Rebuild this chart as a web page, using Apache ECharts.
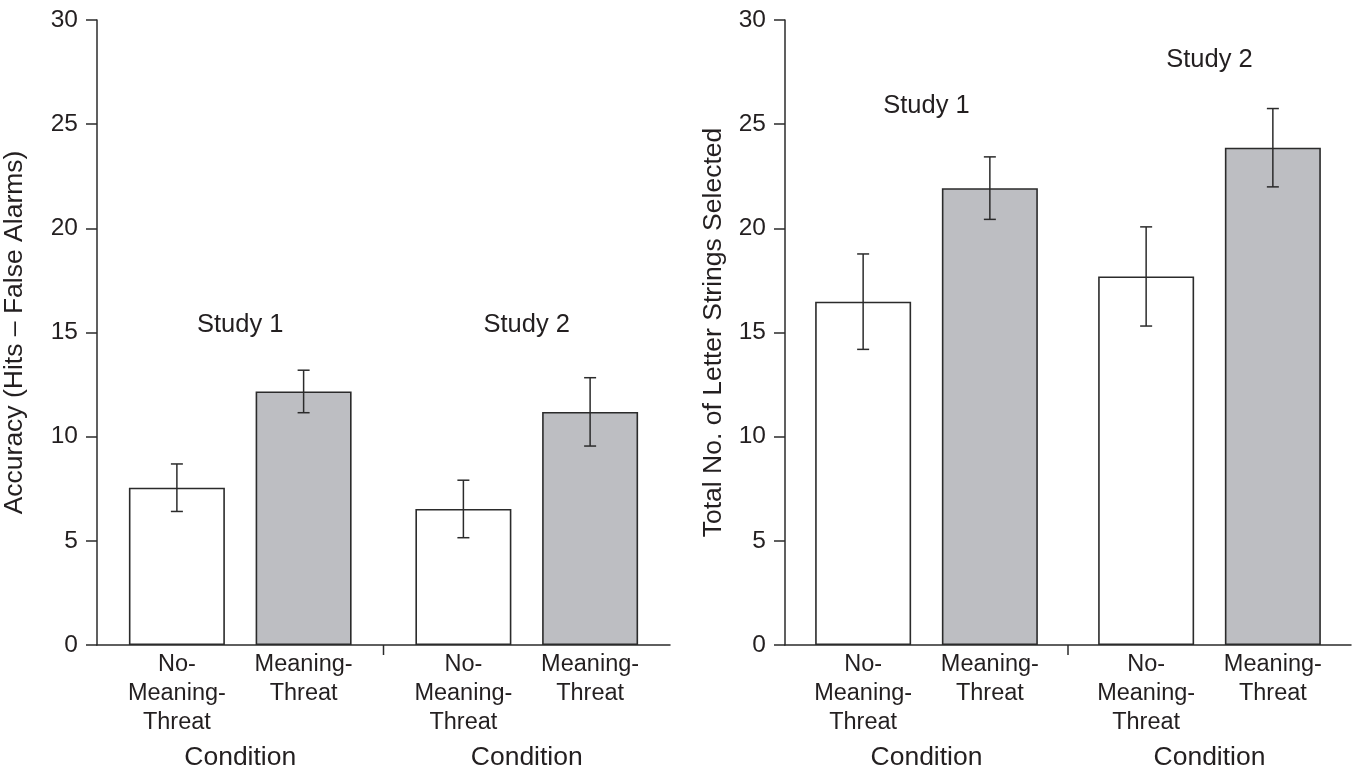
<!DOCTYPE html>
<html>
<head>
<meta charset="utf-8">
<script src="https://cdn.jsdelivr.net/npm/echarts@6/dist/echarts.min.js"></script>
<style>
html,body{margin:0;padding:0;background:#fff;}
#chart{width:1358px;height:771px;}
</style>
</head>
<body>
<div id="chart"></div>
<script>
// ---- data ----
const categories = ['Study 1', 'Study 2'];
const conditionNames = ['No-Meaning-Threat', 'Meaning-Threat'];
const conditionLabels = ['No-\nMeaning-\nThreat', 'Meaning-\nThreat'];
const xAxisTitle = 'Condition';
const yTicks = { min: 0, max: 30, interval: 5 };

const accuracyNoThreat = [7.55, 6.53];
const accuracyNoThreatErr = [1.14, 1.38];
const accuracyThreat = [12.17, 11.19];
const accuracyThreatErr = [1.02, 1.64];
const accuracyStudyLabelY = [15.35, 15.35];

const lettersNoThreat = [16.48, 17.69];
const lettersNoThreatErr = [2.29, 2.38];
const lettersThreat = [21.93, 23.87];
const lettersThreatErr = [1.5, 1.88];
const lettersStudyLabelY = [25.85, 28.1];

const leftYName = 'Accuracy (Hits \u2013 False Alarms)';
const rightYName = 'Total No. of Letter Strings Selected';

// ---- style ----
const FONT = "'Liberation Sans', Arial, Helvetica, sans-serif";
const TEXT = '#231f20';
const LINE = '#2b2b2b';
const GRAY = '#bdbec2';
const BAR_W = 96;
const BAR_GAP = 0.32;

function barSeries(idx, values, fill, s) {
  return {
    type: 'bar', name: conditionNames[s], xAxisIndex: idx, yAxisIndex: idx,
    data: values, barWidth: BAR_W, barGap: (BAR_GAP * 100) + '%',
    itemStyle: { color: fill, borderColor: LINE, borderWidth: 1.6 },
    label: {
      show: true, position: 'bottom', distance: 5,
      formatter: conditionLabels[s], fontFamily: FONT, fontSize: 23.5,
      lineHeight: 29, color: TEXT, align: 'center'
    },
    silent: true, animation: false
  };
}

function errorSeries(idx, mA, eA, mB, eB) {
  const data = [];
  for (let i = 0; i < categories.length; i++) {
    data.push([i, mA[i], eA[i], 0]);
    data.push([i, mB[i], eB[i], 1]);
  }
  return {
    type: 'custom', xAxisIndex: idx, yAxisIndex: idx, z: 5, animation: false, silent: true,
    data: data, encode: { x: 0, y: 1 },
    renderItem: function (params, api) {
      const i = api.value(0), m = api.value(1), e = api.value(2), s = api.value(3);
      const step = BAR_W * (1 + BAR_GAP);
      const cx = api.coord([i, m])[0] + (s - 0.5) * step;
      const yt = api.coord([i, m + e])[1];
      const yb = api.coord([i, m - e])[1];
      const cap = 6;
      const st = { stroke: LINE, lineWidth: 1.5 };
      return { type: 'group', children: [
        { type: 'line', shape: { x1: cx, y1: yt, x2: cx, y2: yb }, style: st },
        { type: 'line', shape: { x1: cx - cap, y1: yt, x2: cx + cap, y2: yt }, style: st },
        { type: 'line', shape: { x1: cx - cap, y1: yb, x2: cx + cap, y2: yb }, style: st }
      ]};
    }
  };
}

function separatorSeries(idx) {
  return {
    type: 'custom', xAxisIndex: idx, yAxisIndex: idx, z: 5, animation: false, silent: true,
    data: [[0, 0]], encode: { x: 0, y: 1 },
    renderItem: function (params, api) {
      const p = api.coord([0, 0]);
      const band = api.size([1, 0])[0];
      const x = p[0] + band / 2;
      return { type: 'line', shape: { x1: x, y1: p[1], x2: x, y2: p[1] + 10 },
        style: { stroke: LINE, lineWidth: 1.5 } };
    }
  };
}

function studyLabelSeries(idx, ys) {
  return {
    type: 'custom', xAxisIndex: idx, yAxisIndex: idx, z: 5, animation: false, silent: true,
    data: ys.map((y, i) => [i, y]), encode: { x: 0, y: 1 },
    renderItem: function (params, api) {
      const i = api.value(0);
      const p = api.coord([i, api.value(1)]);
      return { type: 'text', style: { text: categories[i], x: p[0], y: p[1],
        align: 'center', verticalAlign: 'middle', fill: TEXT, font: '25.5px ' + FONT } };
    }
  };
}

function xAxis(idx) {
  return {
    type: 'category', gridIndex: idx, data: categories,
    axisLine: { show: true, lineStyle: { color: LINE, width: 1.5 } },
    axisTick: { show: false },
    axisLabel: { formatter: function () { return xAxisTitle; }, margin: 99,
      fontFamily: FONT, fontSize: 26.5, color: TEXT },
    splitLine: { show: false }
  };
}

function yAxis(idx, name, gap) {
  return {
    type: 'value', gridIndex: idx, min: yTicks.min, max: yTicks.max, interval: yTicks.interval,
    name: name, nameLocation: 'middle', nameGap: gap,
    nameTextStyle: { fontFamily: FONT, fontSize: 26.5, color: TEXT },
    axisLine: { show: true, lineStyle: { color: LINE, width: 1.5 } },
    axisTick: { show: true, length: 11, lineStyle: { color: LINE, width: 1.5 } },
    axisLabel: { margin: 19, fontFamily: FONT, fontSize: 24.5, color: TEXT },
    splitLine: { show: false }
  };
}

const chart = echarts.init(document.getElementById('chart'), null, { renderer: 'canvas' });
chart.setOption({
  backgroundColor: '#ffffff',
  animation: false,
  grid: [
    { left: 95, top: 20, width: 575, height: 628 },
    { left: 785, top: 20, width: 566, height: 628 }
  ],
  xAxis: [xAxis(0), xAxis(1)],
  yAxis: [yAxis(0, leftYName, 69), yAxis(1, rightYName, 58)],
  series: [
    barSeries(0, accuracyNoThreat, '#ffffff', 0),
    barSeries(0, accuracyThreat, GRAY, 1),
    errorSeries(0, accuracyNoThreat, accuracyNoThreatErr, accuracyThreat, accuracyThreatErr),
    separatorSeries(0),
    studyLabelSeries(0, accuracyStudyLabelY),
    barSeries(1, lettersNoThreat, '#ffffff', 0),
    barSeries(1, lettersThreat, GRAY, 1),
    errorSeries(1, lettersNoThreat, lettersNoThreatErr, lettersThreat, lettersThreatErr),
    separatorSeries(1),
    studyLabelSeries(1, lettersStudyLabelY)
  ]
});
</script>
</body>
</html>
